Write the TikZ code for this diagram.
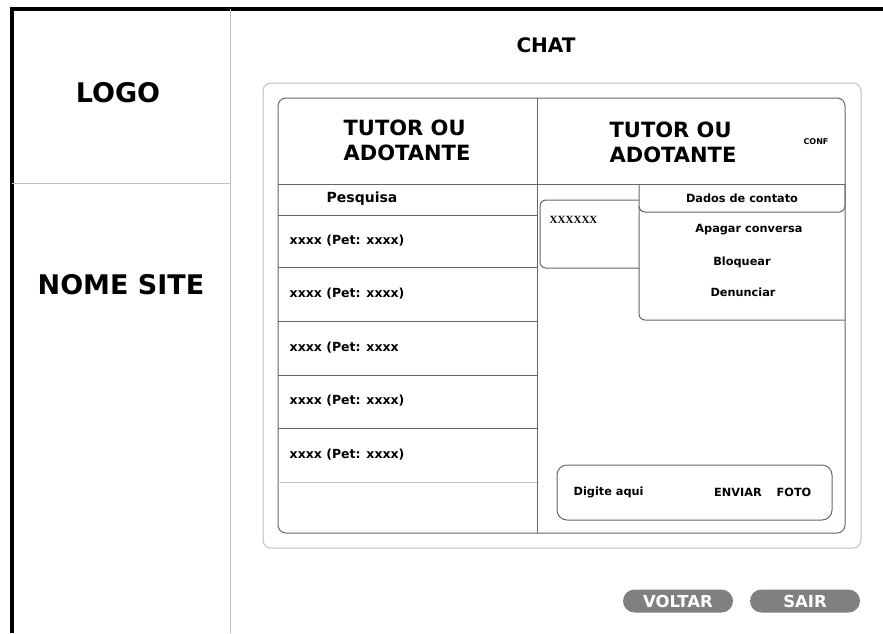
\documentclass[tikz,border=0pt]{standalone}
\usepackage{fontspec}
\setmainfont{DejaVu Sans}
\newfontfamily\boxfont{Liberation Serif}
\usetikzlibrary{shapes.misc}

\begin{document}
\begin{tikzpicture}[x=1pt,y=-1pt,thick,
  wire/.style={draw=black!60,line width=1pt},
  faint/.style={draw=black!25,line width=1pt},
  big/.style={font=\bfseries\fontsize{27}{30}\selectfont},
  head/.style={font=\bfseries\fontsize{21}{25}\selectfont,align=left},
  item/.style={font=\bfseries\fontsize{12.5}{14}\selectfont},
  menu/.style={font=\bfseries\fontsize{11.3}{13}\selectfont},
  small/.style={font=\bfseries\fontsize{8}{9}\selectfont},
  pill/.style={rounded rectangle,fill=black!50,text=white,minimum width=110pt,
    minimum height=23pt,inner sep=0pt,font=\bfseries\fontsize{16.5}{18}\selectfont}]
\useasboundingbox (0,0) rectangle (883,633);
% page frame
\draw[line width=3.5pt] (12,633) -- (12,9) -- (883,9);
\draw[faint] (230,9) -- (230,633);
\draw[faint] (12,183) -- (230,183);
\node[big] (logo) at (118,93) {LOGO};
\node[big] (site) at (121,285) {NOME SITE};
\node[font=\bfseries\fontsize{20}{22}\selectfont] (chat) at (546,45) {CHAT};
% chat window
\draw[faint,rounded corners=8pt] (263,83) rectangle (861,548);
\draw[wire,rounded corners=8pt] (278,98) rectangle (845,533);
\draw[wire] (537,98) -- (537,533);
\draw[wire] (278,184) -- (845,184);
\node[head] (tutorA) at (407,140) {TUTOR OU\\ADOTANTE};
\node[head] (tutorB) at (673,142) {TUTOR OU\\ADOTANTE};
\node[small] (conf) at (816,142) {CONF};
% contact list
\node[font=\bfseries\fontsize{14}{16}\selectfont] (search) at (362,199) {Pesquisa};
\foreach \y in {215,267,321,375,428}
  \draw[wire] (278,\y) -- (537,\y);
\draw[faint] (278,482) -- (537,482);
\foreach \y [count=\i] in {241,294,348,401,455}
  \node[item,anchor=west] (pet\i) at (286,\y) {xxxx (Pet: xxxx\ifnum\i=3\else)\fi};
% message and menu
\draw[wire,rounded corners=6pt] (639,268) -- (540,268) -- (540,200) -- (639,200);
\node[font=\boxfont\bfseries\fontsize{11}{12}\selectfont,anchor=west] (msg) at (546,220) {XXXXXX};
\draw[wire,rounded corners=6pt] (639,184) -- (639,212) -- (845,212) -- (845,184);
\draw[wire,rounded corners=6pt] (639,206) -- (639,320) -- (845,320);
\node[menu] (dados) at (742,198) {Dados de contato};
\node[menu] (apagar) at (749,230) {Apagar conversa};
\node[menu] (bloq) at (742,262) {Bloquear};
\node[menu] (denun) at (743,292) {Denunciar};
% input bar
\draw[wire,rounded corners=10pt] (557,465) rectangle (832,520);
\node[menu,anchor=west] (digite) at (570,492) {Digite aqui};
\node[menu] (enviar) at (738,492) {ENVIAR};
\node[menu] (foto) at (794,492) {FOTO};
% buttons
\node[pill] (voltar) at (678,601) {VOLTAR};
\node[pill] (sair) at (805,601) {SAIR};
\end{tikzpicture}
\end{document}
